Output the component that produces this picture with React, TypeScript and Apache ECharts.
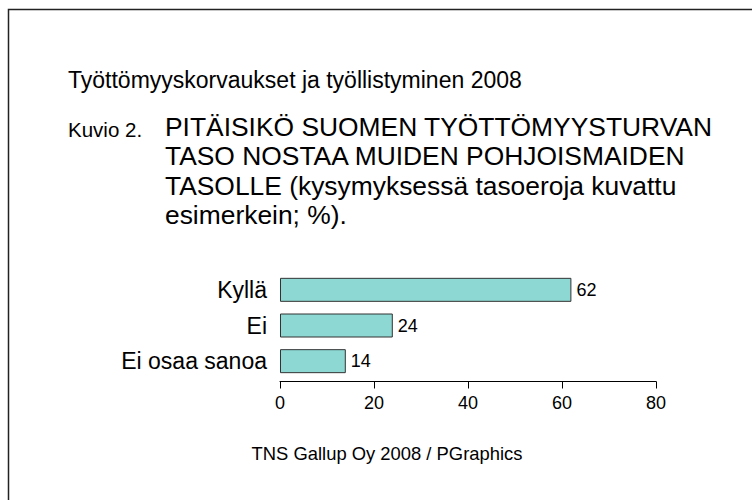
import React, { useEffect, useRef } from "react";
import * as echarts from "echarts";

const categories = ["Kyllä", "Ei", "Ei osaa sanoa"];
const values = [62, 24, 14];
const xTicks = { min: 0, max: 80, interval: 20 };

const headerText = "Työttömyyskorvaukset ja työllistyminen 2008";
const figureLabel = "Kuvio 2.";
const questionLines = [
  "PITÄISIKÖ SUOMEN TYÖTTÖMYYSTURVAN",
  "TASO NOSTAA MUIDEN POHJOISMAIDEN",
  "TASOLLE (kysymyksessä tasoeroja kuvattu",
  "esimerkein; %).",
];
const footerText = "TNS Gallup Oy 2008 / PGraphics";

const FONT = '"Liberation Sans", Arial, Helvetica, sans-serif';

export default function App() {
  const ref = useRef<HTMLDivElement>(null);

  useEffect(() => {
    if (!ref.current) return;
    const chart = echarts.init(ref.current, null, { renderer: "svg" });
    chart.setOption({
      animation: false,
      backgroundColor: "#ffffff",
      textStyle: { fontFamily: FONT },
      grid: { left: 280, top: 272, width: 376, height: 107 },
      xAxis: {
        type: "value",
        min: xTicks.min,
        max: xTicks.max,
        interval: xTicks.interval,
        offset: 2.5,
        axisLine: { show: true, lineStyle: { color: "#000", width: 1 } },
        axisTick: { show: true, length: 7, lineStyle: { color: "#000" } },
        splitLine: { show: false },
        axisLabel: { color: "#000", fontSize: 18, margin: 12, fontFamily: FONT },
      },
      yAxis: {
        type: "category",
        data: categories,
        inverse: true,
        axisLine: { show: false },
        axisTick: { show: false },
        axisLabel: { color: "#000", fontSize: 23, margin: 13, fontFamily: FONT },
      },
      series: [
        {
          type: "bar",
          data: values,
          barWidth: 24,
          itemStyle: { color: "#8dd8d3", borderColor: "#333", borderWidth: 1 },
          label: {
            show: true,
            position: "right",
            distance: 5,
            color: "#000",
            fontSize: 18,
            fontFamily: FONT,
          },
        },
      ],
      graphic: [
        {
          type: "polyline",
          shape: { points: [[8.5, 500], [8.5, 9.5], [752, 9.5]] },
          style: { stroke: "#222", lineWidth: 1.5, fill: "none" },
        },
        {
          type: "text",
          x: 68,
          y: 80,
          style: {
            text: headerText,
            fontSize: 23,
            fontFamily: FONT,
            fill: "#000",
            verticalAlign: "middle",
          },
        },
        {
          type: "text",
          x: 68,
          y: 129,
          style: {
            text: figureLabel,
            fontSize: 20.5,
            fontFamily: FONT,
            fill: "#000",
            verticalAlign: "middle",
          },
        },
        {
          type: "text",
          x: 165,
          y: 111.9,
          style: {
            text: questionLines.join("\n"),
            fontSize: 26.4,
            lineHeight: 29.6,
            fontFamily: FONT,
            fill: "#000",
            verticalAlign: "top",
          },
        },
        {
          type: "text",
          x: 387,
          y: 453,
          style: {
            text: footerText,
            fontSize: 18.4,
            fontFamily: FONT,
            fill: "#000",
            align: "center",
            verticalAlign: "middle",
          },
        },
      ],
    });
    return () => chart.dispose();
  }, []);

  return (
    <div
      ref={ref}
      style={{ position: "absolute", left: 0, top: 0, width: 752, height: 500 }}
    />
  );
}
